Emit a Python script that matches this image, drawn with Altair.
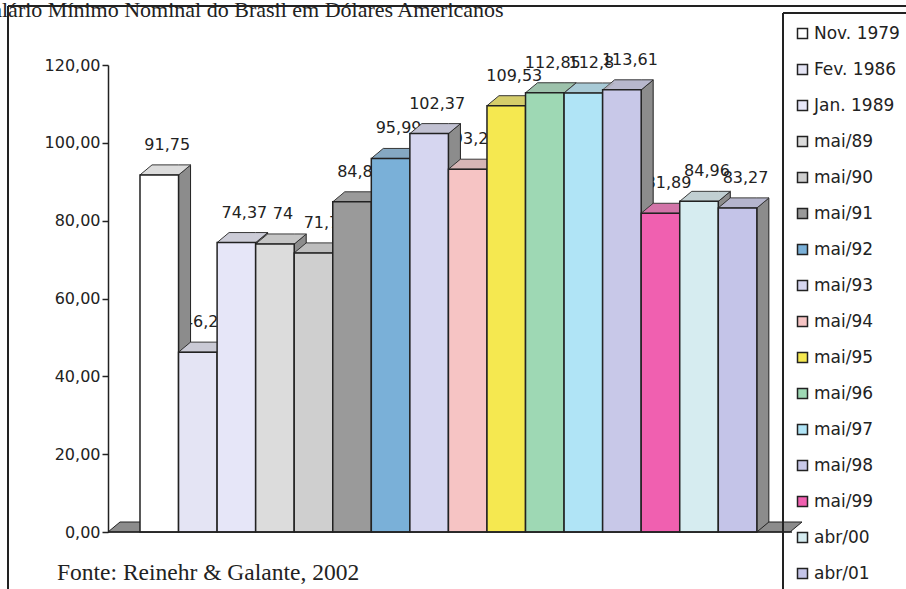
import altair as alt
import pandas as pd

# ---- data ----
periods = ["Nov. 1979", "Fev. 1986", "Jan. 1989", "mai/89", "mai/90", "mai/91",
           "mai/92", "mai/93", "mai/94", "mai/95", "mai/96", "mai/97",
           "mai/98", "mai/99", "abr/00", "abr/01"]
values = [91.75, 46.21, 74.37, 74, 71.7, 84.83, 95.99, 102.37, 93.22, 109.53,
          112.85, 112.8, 113.61, 81.89, 84.96, 83.27]
colors = ["#ffffff", "#e4e4f4", "#e6e6f8", "#dcdcdc", "#cfcfcf", "#9a9a9a",
          "#7ab0d8", "#d6d6f0", "#f6c4c4", "#f5e850", "#9ed8b4", "#b0e4f6",
          "#c8c8e8", "#f060b0", "#d6ecf0", "#c4c4e8"]
y_ticks = [0, 20, 40, 60, 80, 100, 120]
title_text = "Salário Mínimo Nominal do Brasil em Dólares Americanos"
source_text = "Fonte: Reinehr & Galante, 2002"

# ---- geometry of the pseudo-3D view ----
W, H = 682, 467
X_MIN, X_MAX = -0.83, 16.86
Y_MAX = 120
DDX = 12 / (W / (X_MAX - X_MIN))   # depth shift to the right (in x units)
DDY = 10 / (H / Y_MAX)             # depth shift upward (in y units)

fronts = pd.DataFrame({
    "period": periods,
    "v": values,
    "x": [i for i in range(len(values))],
    "x2": [i + 1 for i in range(len(values))],
    "xc": [i + 0.5 for i in range(len(values))],
    "label": [str(v).replace(".", ",") for v in values],
})

side_rows, top_rows = [], []
for i, (p, v) in enumerate(zip(periods, values)):
    side_rows += [
        {"bar": i, "period": p, "x": i + 1, "y": 0, "y2": v},
        {"bar": i, "period": p, "x": i + 1 + DDX, "y": DDY, "y2": v + DDY},
    ]
    top_rows += [
        {"bar": i, "period": p, "x": i, "y": v, "y2": v},
        {"bar": i, "period": p, "x": i + DDX, "y": v, "y2": v + DDY},
        {"bar": i, "period": p, "x": i + 1, "y": v, "y2": v + DDY},
        {"bar": i, "period": p, "x": i + 1 + DDX, "y": v + DDY, "y2": v + DDY},
    ]
sides = pd.DataFrame(side_rows)
tops = pd.DataFrame(top_rows)
floor = pd.DataFrame({
    "x": [X_MIN, X_MIN + DDX, X_MAX, X_MAX + DDX],
    "y": [0, 0, 0, DDY],
    "y2": [0, DDY, DDY, DDY],
})
one = pd.DataFrame({"t": [title_text], "s": [source_text]})

INK = "#222222"
xs = alt.Scale(domain=[X_MIN, X_MAX], nice=False, zero=False)
ys = alt.Scale(domain=[0, Y_MAX], nice=False)
fill_scale = alt.Scale(domain=periods, range=colors)

y_axis = alt.Axis(
    title=None, values=y_ticks, grid=False,
    labelExpr="replace(format(datum.value, '.2f'), '.', ',')",
    labelFont="DejaVu Sans", labelFontSize=16, labelColor=INK,
    domainColor=INK, domainWidth=1.5, tickColor=INK, tickWidth=1.5,
    tickSize=6, labelPadding=2,
)
fill_legend = alt.Legend(
    title=None, orient="none", legendX=686, legendY=-40,
    symbolType="square", symbolSize=100, symbolStrokeColor=INK,
    symbolStrokeWidth=1.5, labelFont="DejaVu Sans", labelFontSize=17,
    labelColor=INK, rowPadding=18, labelOffset=3, symbolLimit=0,
)


def X(field):
    return alt.X(field, scale=xs, axis=None)


def Y(field):
    return alt.Y(field, scale=ys, axis=y_axis)


def F():
    return alt.Fill("period:N", scale=fill_scale, legend=fill_legend)


floor_layer = alt.Chart(floor).mark_area(
    color="#8c8c8c", stroke=INK, strokeWidth=1
).encode(x=X("x:Q"), y=Y("y:Q"), y2="y2:Q")

label_layer = alt.Chart(fronts).mark_text(
    font="DejaVu Sans", fontSize=16, dx=8, dy=-30, baseline="middle", color=INK
).encode(x=X("xc:Q"), y=Y("v:Q"), text="label:N")

side_layer = alt.Chart(sides).mark_area(
    color="#8c8c8c", stroke=INK, strokeWidth=1
).encode(x=X("x:Q"), y=Y("y:Q"), y2="y2:Q", detail="bar:N")

top_layer = alt.Chart(tops).mark_area(stroke=INK, strokeWidth=1, opacity=1).encode(
    x=X("x:Q"), y=Y("y:Q"), y2="y2:Q", fill=F(), detail="bar:N"
)

top_shade = alt.Chart(tops).mark_area(color="#9a9a9a", opacity=0.35).encode(
    x=X("x:Q"), y=Y("y:Q"), y2="y2:Q", detail="bar:N"
)

front_layer = alt.Chart(fronts).mark_rect(stroke=INK, strokeWidth=1.5).encode(
    x=X("x:Q"), x2="x2:Q", y=Y("v:Q"), y2=alt.datum(0), fill=F()
)

baseline = alt.Chart(one).mark_rule(color=INK, strokeWidth=1.5).encode(
    x=alt.value(0), x2=alt.value(W + 2), y=alt.value(H)
)
frame_top = alt.Chart(one).mark_rule(color=INK, strokeWidth=2).encode(
    x=alt.value(-100), x2=alt.value(W + 116), y=alt.value(-59)
)
frame_left = alt.Chart(one).mark_rule(color=INK, strokeWidth=2).encode(
    x=alt.value(-100), y=alt.value(-59), y2=alt.value(H + 57)
)
legend_top = alt.Chart(one).mark_rule(color=INK, strokeWidth=2).encode(
    x=alt.value(675), x2=alt.value(W + 116), y=alt.value(-52)
)
legend_left = alt.Chart(one).mark_rule(color=INK, strokeWidth=2).encode(
    x=alt.value(675), y=alt.value(-52), y2=alt.value(H + 57)
)

title_layer = alt.Chart(one).mark_text(
    font="Liberation Serif", fontSize=22, align="left", baseline="alphabetic",
    color=INK,
).encode(text="t:N", x=alt.value(-128), y=alt.value(-48))

source_layer = alt.Chart(one).mark_text(
    font="Liberation Serif", fontSize=23.5, align="left", baseline="alphabetic",
    color=INK,
).encode(text="s:N", x=alt.value(-51), y=alt.value(515))

chart = alt.layer(
    floor_layer, label_layer, side_layer, top_layer, top_shade, front_layer,
    baseline, frame_top, frame_left, legend_top, legend_left,
    title_layer, source_layer,
).properties(
    width=W, height=H,
    autosize=alt.AutoSizeParams(type="none"),
    padding={"left": 108, "top": 65, "right": 116, "bottom": 57},
    background="white",
).configure_view(stroke="transparent")

chart.save("out.html", embed_options={"renderer": "svg", "actions": False})
